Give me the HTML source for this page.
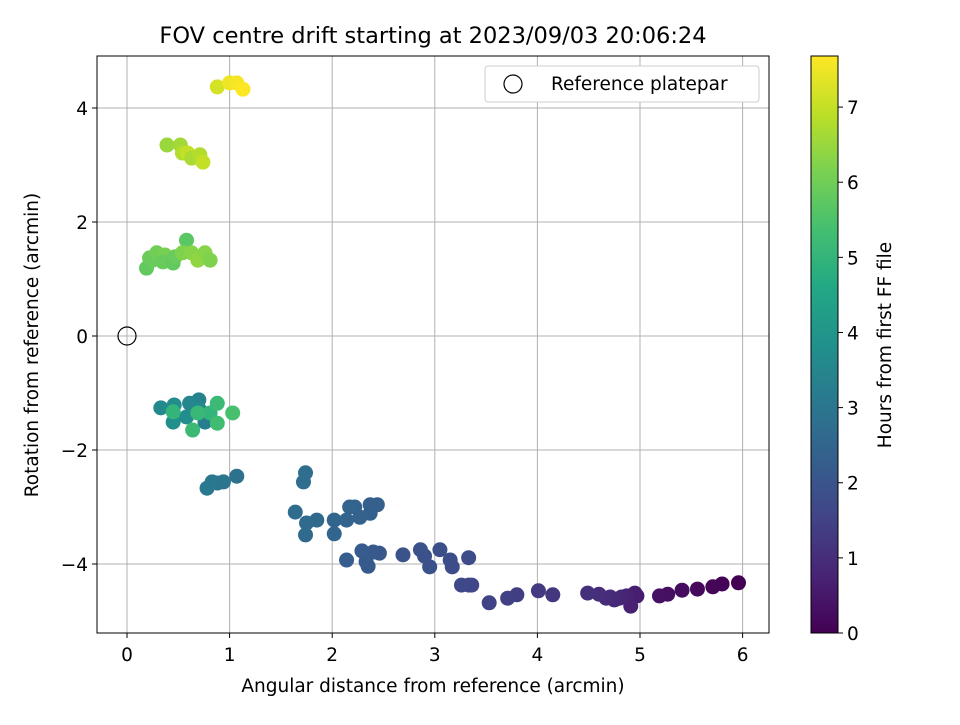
<!DOCTYPE html>
<html><head><meta charset="utf-8"><style>
body{margin:0;background:#fff;}
svg{font-family:"DejaVu Sans","Liberation Sans",sans-serif;}
</style></head><body>
<svg id="chart" width="960" height="720" viewBox="0 0 960 720" xmlns="http://www.w3.org/2000/svg">
<rect width="960" height="720" fill="#fff"/>
<text x="433" y="43" text-anchor="middle" font-size="22.5">FOV centre drift starting at 2023/09/03 20:06:24</text>
<g id="grid"></g>
<g id="ticks"></g>
<g id="points"></g>
<circle id="refm" r="9" fill="none" stroke="#000" stroke-width="1.2"/>
<rect x="97" y="56" width="672" height="577" fill="none" stroke="#000" stroke-width="1"/>
<text x="433" y="692" text-anchor="middle" font-size="18.5">Angular distance from reference (arcmin)</text>
<text transform="translate(38,345) rotate(-90)" text-anchor="middle" font-size="18.5">Rotation from reference (arcmin)</text>
<g>
<rect x="485" y="66" width="274" height="36" rx="3" fill="#fff" stroke="#ccc" stroke-width="1"/>
<circle cx="513" cy="84" r="9" fill="none" stroke="#000" stroke-width="1.2"/>
<text x="551" y="90" font-size="18.5">Reference platepar</text>
</g>
<defs><linearGradient id="vir" x1="0" y1="1" x2="0" y2="0"></linearGradient></defs>
<rect x="811" y="56" width="27" height="577" fill="url(#vir)" stroke="#000" stroke-width="1"/>
<g id="cbticks"></g>
<text transform="translate(891,345) rotate(-90)" text-anchor="middle" font-size="18.5">Hours from first FF file</text>
</svg>
<script>
const xVals=[5.96,5.80,5.71,5.56,5.41,5.27,5.19,4.97,4.95,4.91,4.87,4.82,4.80,4.75,4.71,4.67,4.60,4.49,4.15,4.01,3.80,3.71,3.53,3.36,3.33,3.26,3.17,3.15,3.05,2.95,3.33,2.86,2.69,2.90,
2.46,2.40,2.33,2.35,2.29,2.14,2.44,2.37,2.37,2.27,2.22,2.17,2.14,2.02,2.02,1.85,1.75,1.74,1.64,1.72,1.74,
1.07,0.94,0.88,0.83,0.78,
0.76,0.70,0.61,0.33,0.71,0.46,0.58,0.45,0.45,0.81,0.69,0.88,0.64,0.88,1.03,
0.19,0.22,0.25,0.29,0.37,0.35,0.45,0.47,0.58,0.54,0.63,0.69,0.76,0.81,
0.39,0.52,0.54,0.59,0.63,0.71,0.74,
0.88,1.00,1.07,1.13];
const yVals=[-4.33,-4.35,-4.40,-4.44,-4.46,-4.53,-4.56,-4.56,-4.51,-4.74,-4.56,-4.58,-4.60,-4.63,-4.58,-4.60,-4.53,-4.51,-4.54,-4.47,-4.54,-4.60,-4.68,-4.37,-4.37,-4.37,-4.05,-3.93,-3.75,-4.05,-3.89,-3.75,-3.84,-3.86,
-3.81,-3.79,-3.96,-4.04,-3.77,-3.93,-2.96,-2.96,-3.11,-3.18,-3.0,-3.0,-3.23,-3.23,-3.47,-3.23,-3.28,-3.49,-3.09,-2.56,-2.40,
-2.46,-2.56,-2.58,-2.56,-2.67,
-1.51,-1.12,-1.18,-1.26,-1.30,-1.21,-1.42,-1.51,-1.33,-1.35,-1.35,-1.18,-1.65,-1.53,-1.35,
1.19,1.37,1.33,1.46,1.42,1.30,1.28,1.39,1.68,1.46,1.46,1.33,1.46,1.33,
3.35,3.35,3.21,3.21,3.12,3.18,3.05,
4.37,4.44,4.44,4.33];
const hours=[0,0.05,0.1,0.15,0.25,0.3,0.35,0.6,0.65,0.7,0.75,0.8,0.82,0.85,0.9,0.95,1.0,1.05,1.2,1.3,1.4,1.45,1.5,1.6,1.62,1.65,1.75,1.8,1.85,1.9,1.75,1.95,2.0,1.9,
2.1,2.12,2.15,2.15,2.2,2.25,2.3,2.32,2.35,2.4,2.42,2.45,2.45,2.5,2.5,2.6,2.65,2.65,2.7,2.75,2.75,
2.9,3.0,3.02,3.05,3.1,
3.3,3.4,3.5,3.6,3.6,3.7,3.7,3.8,5.0,5.0,5.1,5.2,5.2,5.3,5.4,
5.8,5.9,5.9,6.0,6.1,5.9,5.8,5.9,5.7,6.2,6.3,6.4,6.3,6.2,
6.5,6.6,6.8,7.0,6.7,6.8,7.0,
7.2,7.5,7.6,7.7];
const xTicks=[0,1,2,3,4,5,6];
const yTicks=[4,2,0,-2,-4];
const cTicks=[0,1,2,3,4,5,6,7];
const refPoint=[0,0];
const hMax=7.68;

const NS="http://www.w3.org/2000/svg";
const X=v=>127+v*102.6, Y=v=>336-v*57, CY=v=>633-v/hMax*577;
const stops=[[0.0,[68,1,84]],[0.1,[72,36,117]],[0.2,[65,68,135]],[0.3,[53,95,141]],[0.4,[42,120,142]],[0.5,[33,145,140]],[0.6,[34,168,132]],[0.7,[68,191,112]],[0.8,[122,209,81]],[0.9,[189,223,38]],[1.0,[253,231,37]]];
function vir(t){t=Math.max(0,Math.min(1,t));for(let i=1;i<stops.length;i++){if(t<=stops[i][0]){const a=stops[i-1],b=stops[i],f=(t-a[0])/(b[0]-a[0]);return 'rgb('+a[1].map((c,k)=>Math.round(c+(b[1][k]-c)*f)).join(',')+')';}}return 'rgb(253,231,37)';}
function mk(tag,attrs,parent){const e=document.createElementNS(NS,tag);for(const k in attrs)e.setAttribute(k,attrs[k]);parent.appendChild(e);return e;}
const grid=document.getElementById('grid'),ticks=document.getElementById('ticks');
xTicks.forEach(v=>{
 const l=mk('line',{x1:X(v),x2:X(v),y1:56,y2:633,stroke:'#b0b0b0','stroke-width':1},grid);
 
 
 const t=mk('line',{x1:X(v),x2:X(v),y1:633,y2:638,stroke:'#000'},ticks);
 
 
 const s=mk('text',{x:X(v),y:661,'text-anchor':'middle','font-size':18.5},ticks);
 s.textContent=v;
 
 
});
yTicks.forEach(v=>{
 const l=mk('line',{x1:97,x2:769,y1:Y(v),y2:Y(v),stroke:'#b0b0b0','stroke-width':1},grid);
 
 
 const t=mk('line',{x1:92,x2:97,y1:Y(v),y2:Y(v),stroke:'#000'},ticks);
 
 
 const s=mk('text',{x:88,y:Y(v)+7,'text-anchor':'end','font-size':18.5},ticks);
 s.textContent=v<0?'\u2212'+(-v):String(v);
 
 
});
const pts=document.getElementById('points');
xVals.forEach((xv,i)=>{
 const c=mk('circle',{cx:X(xv),cy:Y(yVals[i]),r:7.5,fill:vir(hours[i]/hMax)},pts);
 
 
});
const ref=document.getElementById('refm');ref.setAttribute('cx',X(refPoint[0]));ref.setAttribute('cy',Y(refPoint[1]));
const g=document.getElementById('vir');
stops.forEach(s=>{mk('stop',{offset:s[0],'stop-color':'rgb('+s[1].join(',')+')'},g);});
const cb=document.getElementById('cbticks');
cTicks.forEach(v=>{
 const t=mk('line',{x1:838,x2:843,y1:CY(v),y2:CY(v),stroke:'#000'},cb);
 
 
 const s=mk('text',{x:847,y:CY(v)+7,'font-size':18.5},cb);
 s.textContent=v;
 
 
});
</script>
</body></html>
